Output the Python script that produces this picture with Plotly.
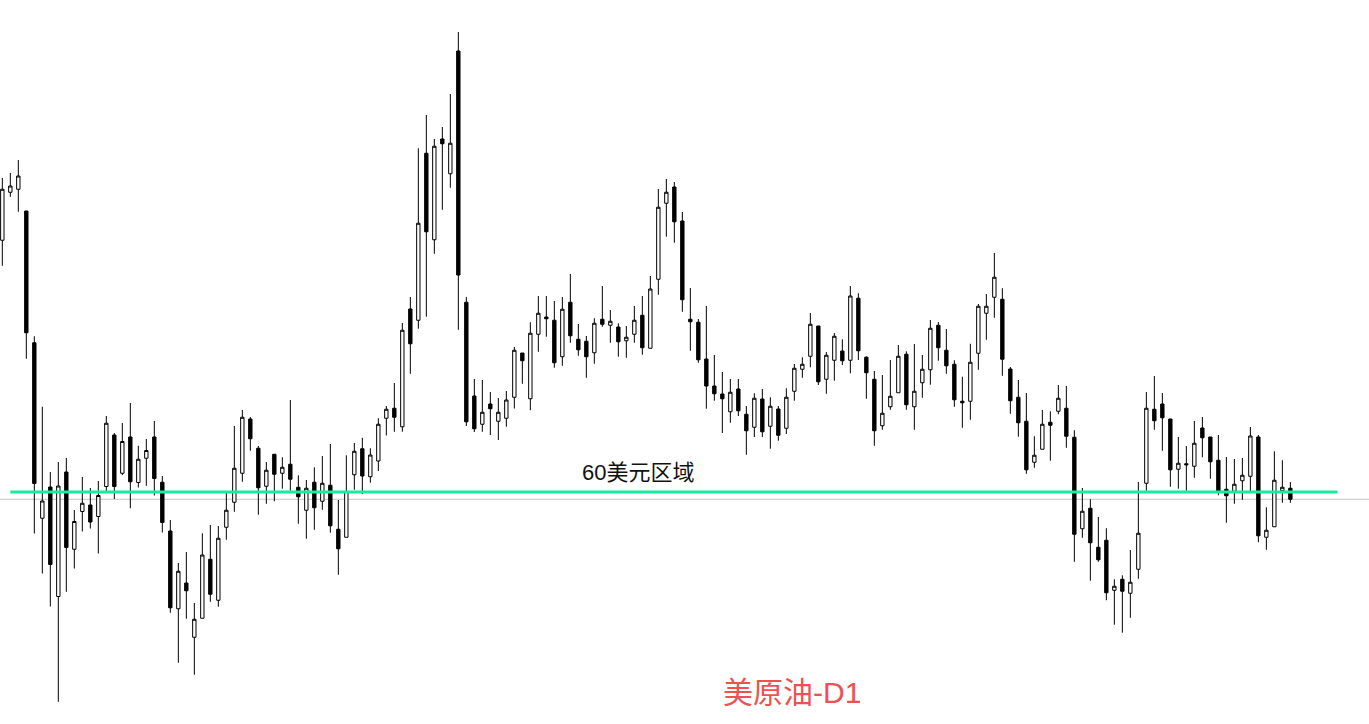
import plotly.graph_objects as go

# Daily OHLC values (USD/bbl)
opens = [70.07, 71.99, 72.11, 71.24, 65.97, 58.95, 60.20, 55.82, 60.80, 57.71,
         59.22, 59.48, 59.02, 60.22, 62.28, 60.75, 62.20, 60.38, 61.35, 62.20,
         60.39, 58.44, 55.33, 56.36, 54.19, 54.95, 57.31, 55.67, 58.59, 59.59,
         60.75, 62.92, 61.75, 60.23, 61.51, 60.75, 61.11, 60.19, 59.27, 60.39,
         59.63, 60.27, 58.51, 58.19, 60.69, 61.73, 60.61, 61.24, 62.95, 63.35,
         62.61, 67.32, 66.87, 73.55, 70.09, 74.12, 72.73, 77.64, 67.59, 63.84,
         62.71, 63.52, 62.83, 62.95, 63.79, 65.56, 63.73, 66.31, 67.00, 66.87,
         65.41, 67.59, 66.11, 66.03, 65.57, 66.91, 66.67, 66.60, 66.05, 66.31,
         67.07, 65.75, 68.51, 71.55, 72.20, 70.84, 66.91, 66.79, 65.32, 64.24,
         63.92, 63.21, 64.12, 63.11, 62.59, 63.72, 62.63, 63.32, 62.55, 64.03,
         64.91, 65.43, 66.64, 64.51, 65.27, 65.64, 65.27, 67.75, 65.39, 64.51,
         62.65, 63.41, 63.97, 65.51, 63.41, 64.37, 64.89, 66.67, 65.67, 65.11,
         63.63, 63.63, 65.55, 67.15, 67.79, 67.71, 64.92, 63.79, 62.83, 61.19,
         61.71, 62.79, 63.23, 63.35, 62.19, 58.53, 59.35, 57.79, 58.07, 56.07,
         56.51, 55.95, 56.91, 60.35, 63.31, 63.52, 62.92, 60.91, 61.13, 61.03,
         62.56, 62.20, 61.27, 60.11, 60.03, 60.45, 60.63, 62.20, 58.19, 58.61,
         60.05, 60.15]
highs = [72.56, 72.76, 73.28, 71.24, 66.23, 63.41, 60.80, 61.20, 61.36, 59.28,
         60.60, 60.16, 60.44, 63.04, 62.36, 62.76, 63.56, 61.85, 62.12, 62.84,
         60.64, 58.88, 57.16, 57.60, 55.56, 58.35, 58.68, 58.64, 60.00, 62.64,
         63.28, 63.00, 61.84, 61.20, 61.52, 61.39, 63.68, 60.67, 60.48, 60.99,
         61.44, 61.92, 59.68, 61.47, 61.96, 62.17, 61.75, 62.95, 63.44, 64.36,
         66.76, 67.80, 73.75, 75.08, 74.12, 74.60, 75.92, 78.40, 67.80, 64.52,
         64.48, 64.00, 63.76, 64.04, 65.80, 65.56, 66.79, 67.84, 67.84, 67.64,
         67.80, 68.72, 66.72, 66.24, 66.95, 68.24, 67.28, 66.75, 66.64, 67.44,
         67.84, 68.64, 72.12, 72.52, 72.40, 71.20, 68.16, 66.92, 67.44, 65.48,
         64.80, 64.52, 64.52, 63.44, 63.95, 64.12, 63.79, 63.44, 64.15, 65.12,
         65.39, 67.16, 66.64, 65.60, 66.36, 66.11, 68.24, 67.95, 65.43, 64.84,
         64.68, 65.28, 65.88, 65.63, 65.92, 65.48, 66.88, 66.80, 66.52, 65.27,
         64.61, 65.93, 67.52, 67.92, 69.56, 68.15, 65.00, 64.48, 63.96, 62.23,
         63.28, 63.23, 64.28, 64.24, 62.47, 60.16, 59.71, 59.00, 58.55, 56.51,
         56.67, 57.68, 60.40, 64.00, 64.64, 63.96, 62.92, 62.20, 61.84, 62.84,
         63.00, 62.20, 62.28, 61.40, 61.32, 61.36, 62.60, 62.28, 59.39, 61.63,
         61.27, 60.40]
lows = [69.05, 71.81, 71.21, 65.33, 58.34, 56.74, 55.42, 51.61, 56.01, 56.94,
        58.42, 58.54, 57.54, 60.00, 59.72, 60.68, 59.35, 60.18, 60.25, 59.86,
        58.38, 55.17, 53.17, 54.93, 52.69, 54.95, 55.61, 55.41, 58.09, 59.21,
        60.41, 61.65, 59.09, 59.53, 59.63, 60.13, 60.05, 58.73, 58.13, 58.49,
        59.29, 58.37, 56.69, 58.19, 60.09, 59.92, 60.37, 60.84, 62.26, 62.41,
        62.41, 64.73, 66.53, 67.01, 69.53, 71.29, 72.17, 66.49, 62.64, 62.40,
        62.41, 62.28, 62.08, 62.61, 63.34, 64.33, 63.27, 65.61, 66.21, 64.97,
        65.05, 65.97, 65.45, 64.57, 65.13, 66.61, 65.97, 65.41, 65.37, 65.97,
        65.49, 65.75, 67.89, 70.21, 69.97, 67.21, 65.65, 65.17, 63.33, 63.65,
        62.36, 62.77, 63.04, 61.49, 62.20, 62.20, 61.73, 62.05, 62.32, 63.65,
        64.57, 64.99, 64.28, 63.93, 64.45, 65.08, 64.75, 65.28, 63.73, 61.85,
        62.49, 63.29, 63.97, 63.29, 62.49, 63.77, 64.29, 65.25, 64.73, 63.41,
        62.57, 62.89, 64.89, 66.09, 66.97, 64.65, 63.13, 62.21, 60.73, 60.97,
        61.71, 61.25, 63.11, 61.77, 57.21, 58.17, 56.45, 57.21, 55.67, 54.69,
        54.37, 54.97, 56.53, 60.05, 62.49, 61.65, 60.21, 60.13, 60.05, 60.57,
        61.39, 60.53, 59.87, 58.77, 59.53, 59.69, 60.03, 57.99, 57.69, 58.61,
        59.57, 59.57]
closes = [72.11, 72.24, 72.64, 66.37, 60.34, 59.64, 57.10, 60.24, 57.78, 58.82,
          59.55, 58.80, 59.86, 62.75, 60.22, 62.02, 60.41, 61.31, 61.66, 60.54,
          58.78, 55.37, 56.83, 56.05, 54.91, 57.48, 55.91, 58.15, 59.27, 60.95,
          62.99, 62.13, 60.17, 60.87, 60.71, 60.99, 60.51, 59.81, 60.15, 59.37,
          60.35, 58.65, 57.73, 60.02, 61.63, 60.64, 61.48, 62.71, 63.31, 62.99,
          66.47, 65.93, 70.75, 70.41, 73.83, 73.93, 73.95, 68.68, 62.81, 62.53,
          63.19, 63.33, 63.19, 63.68, 65.67, 65.25, 66.35, 67.15, 66.93, 65.17,
          67.31, 66.25, 65.69, 65.41, 66.75, 66.71, 66.83, 66.01, 66.19, 66.87,
          65.77, 68.12, 71.39, 71.99, 70.81, 67.69, 66.81, 65.29, 64.24, 63.93,
          63.73, 63.99, 63.25, 62.45, 63.75, 62.41, 63.43, 62.27, 63.79, 64.95,
          65.11, 66.71, 64.41, 65.47, 66.23, 65.25, 67.84, 65.65, 64.77, 62.45,
          63.15, 63.83, 65.43, 63.49, 64.03, 64.91, 66.55, 65.77, 65.05, 63.69,
          63.57, 65.19, 67.43, 67.43, 68.59, 65.31, 63.65, 62.77, 60.89, 61.47,
          62.71, 62.67, 63.75, 62.23, 58.31, 59.23, 57.97, 57.29, 55.97, 56.23,
          56.03, 56.39, 58.35, 63.35, 62.85, 62.97, 60.89, 61.15, 61.09, 61.95,
          62.17, 61.21, 60.03, 59.85, 60.31, 60.67, 62.24, 58.25, 58.47, 60.47,
          60.19, 59.71]

bars = list(range(len(closes)))
zone_level = 60.0
zone_label = "60美元区域"
chart_title = "美原油-D1"

fig = go.Figure()
fig.add_trace(go.Candlestick(
    x=bars, open=opens, high=highs, low=lows, close=closes,
    increasing=dict(line=dict(color="#000000", width=1), fillcolor="#ffffff"),
    decreasing=dict(line=dict(color="#000000", width=1), fillcolor="#000000"),
    whiskerwidth=0, hoverinfo="skip", showlegend=False,
))

# last price line (gray) across full width
fig.add_shape(type="line", xref="paper", x0=0, x1=1, yref="y",
              y0=closes[-1], y1=closes[-1],
              line=dict(color="#c4c4c4", width=1), layer="below")
# 60 USD zone line (green)
fig.add_shape(type="line", xref="x", x0=1.0, x1=166.9, yref="y",
              y0=zone_level, y1=zone_level,
              line=dict(color="#16ec9c", width=3), layer="above")

fig.add_annotation(x=72.2, y=60.8, xref="x", yref="y", text=zone_label,
                   showarrow=False, xanchor="left", yanchor="middle",
                   font=dict(family="Liberation Sans, Noto Sans CJK SC, sans-serif",
                             size=22, color="#111111"))
fig.add_annotation(x=721 / 1369, y=1 - 692 / 724, xref="paper", yref="paper",
                   text=chart_title, showarrow=False, xanchor="left", yanchor="middle",
                   font=dict(family="Liberation Sans, Noto Sans CJK SC, sans-serif",
                             size=30, color="#f0504f"))

fig.update_layout(
    width=1369, height=724,
    margin=dict(l=0, r=0, t=0, b=0),
    paper_bgcolor="#ffffff", plot_bgcolor="#ffffff",
    boxgap=0.4,
    xaxis=dict(range=[-0.29, 170.83], visible=False, rangeslider=dict(visible=False),
               fixedrange=True),
    yaxis=dict(range=[50.72, 79.68], visible=False, fixedrange=True),
    showlegend=False,
)

fig.write_html("out.html", config={"displayModeBar": False},
               post_script="document.body.style.margin='0';document.body.style.overflow='hidden';")
